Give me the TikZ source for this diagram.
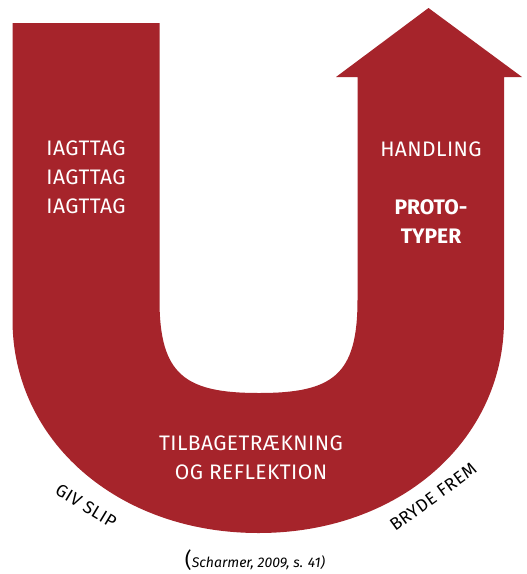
\documentclass[tikz,border=0pt]{standalone}
\usepackage{fontspec}
\setmainfont{Fira Sans}
\definecolor{ured}{RGB}{166,36,43}
\begin{document}
\begin{tikzpicture}[x=1pt,y=-1pt,
  inlabel/.style={text=white,font=\fontsize{21}{29}\selectfont\addfontfeature{LetterSpace=2},align=center,inner sep=0pt},
  outlabel/.style={text=black,font=\fontsize{17.5}{20}\selectfont\addfontfeature{LetterSpace=3},inner sep=0pt}]
\useasboundingbox (0,0) rectangle (527,574);
\fill[white] (0,0) rectangle (527,574);
\fill[ured] (12.5,23) -- (159.5,23) -- (159.5,300)
  .. controls (159.5,375) and (185,393) .. (259,393)
  .. controls (333,393) and (357.5,375) .. (357.5,300)
  -- (357.5,77) -- (336,77) -- (428.5,8) -- (522,77) -- (504,77) -- (504,320)
  .. controls (504,440) and (400,533) .. (258.5,533)
  .. controls (117,533) and (12.5,440) .. (12.5,320) -- cycle;
\node[inlabel,anchor=north] (obs) at (86,141) {IAGTTAG\\IAGTTAG\\IAGTTAG};
\node[inlabel,anchor=north] (hand) at (431,142) {HANDLING};
\node[inlabel,anchor=north,font=\bfseries\fontsize{21}{29}\selectfont] (proto) at (431,199) {PROTO-\\TYPER};
\node[inlabel,anchor=north] (tilb) at (251,436) {TILBAGETRÆKNING\\OG REFLEKTION};
\node[outlabel,rotate=-31] (giv) at (86,506) {GIV SLIP};
\node[outlabel,rotate=36] (bryde) at (433,497) {BRYDE FREM};
\node[inner sep=0pt] (cite) at (255,560) {{\fontsize{21}{21}\selectfont(}\fontsize{14}{16}\selectfont\itshape Scharmer, 2009, s. 41)};
\end{tikzpicture}
\end{document}
